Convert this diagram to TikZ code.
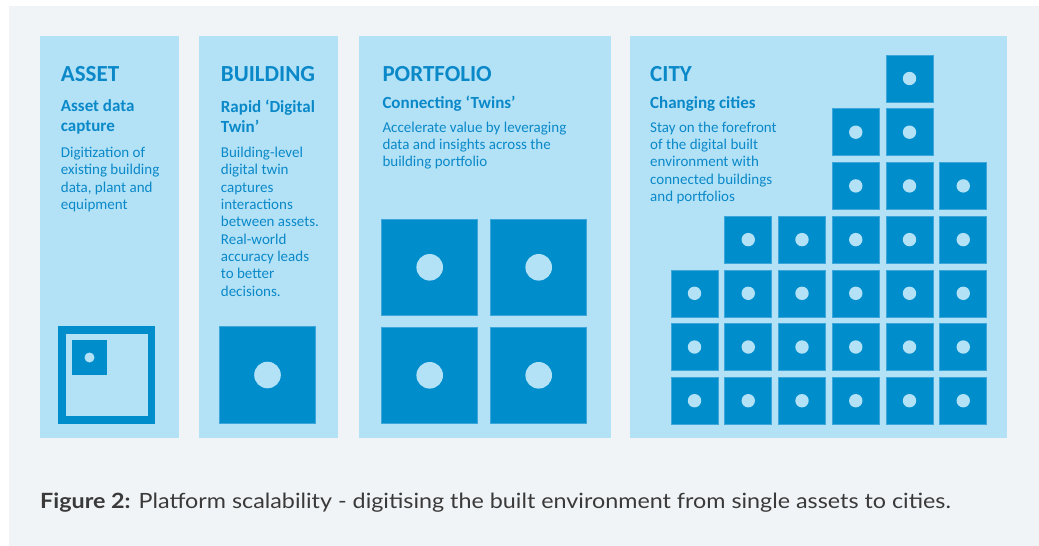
\documentclass[tikz,border=0pt]{standalone}
\usepackage{fontspec}
\setmainfont{Carlito}
\newfontfamily\capfont{Lato}
\definecolor{bgc}{HTML}{F1F4F6}
\definecolor{panelc}{HTML}{B3E2F7}
\definecolor{darkc}{HTML}{008DCC}
\definecolor{edgec}{HTML}{3DA7DC}
\definecolor{txtc}{HTML}{0A88C8}
\definecolor{capc}{HTML}{3A3A3A}
\tikzset{
  panelbox/.style={fill=panelc},
  tile/.style={fill=darkc, draw=edgec, line width=0.6pt},
  dot/.style={fill=panelc},
  titletxt/.style={anchor=north west, inner sep=0pt, text=txtc, font=\fontsize{23}{26}\selectfont\bfseries},
  subtxt/.style={anchor=north west, inner sep=0pt, text=txtc, align=left, font=\fontsize{17}{20}\selectfont\bfseries},
  bodytxt/.style={anchor=north west, inner sep=0pt, text=txtc, align=left, font=\fontsize{15}{17.3}\selectfont},
}
\begin{document}
\begin{tikzpicture}[x=1pt,y=-1pt]
\useasboundingbox (0,0) rectangle (1039,546);
\fill[white] (0,0) rectangle (1039,546);
\fill[bgc] (9,6) rectangle (1039,546);
% panels
\fill[panelbox] (40,36) rectangle (179,438);
\fill[panelbox] (199,36) rectangle (338,438);
\fill[panelbox] (359,36) rectangle (611,438);
\fill[panelbox] (630,36) rectangle (1007,438);
% asset icon
\fill[darkc] (58.3,326) rectangle (155.3,423.7);
\fill[panelc] (65.8,333.5) rectangle (147.8,416.2);
\fill[darkc] (72,340) rectangle (107,375);
\fill[dot] (89.5,357.5) circle (5);
% building icon
\draw[tile] (219.3,326.7) rectangle (315.7,423.3);
\fill[dot] (267.5,375) circle (13.3);
% portfolio icons
\foreach \px/\py in {381.7/219.3, 490.7/219.3, 381.7/327.3, 490.7/327.3}{
  \draw[tile] (\px,\py) rectangle ++(96,96);
  \fill[dot] (\px+48,\py+48) circle (13.3);
}
% city grid
\foreach \c/\r in {4/0, 3/1, 4/1, 3/2, 4/2, 5/2,
  1/3, 2/3, 3/3, 4/3, 5/3,
  0/4, 1/4, 2/4, 3/4, 4/4, 5/4,
  0/5, 1/5, 2/5, 3/5, 4/5, 5/5,
  0/6, 1/6, 2/6, 3/6, 4/6, 5/6}{
  \draw[tile] (671+\c*53.75,55+\r*53.7) rectangle ++(47,47);
  \fill[dot] (671+\c*53.75+23.5,55+\r*53.7+23.5) circle (6.7);
}
% texts
\node[titletxt] (t1) at (60.7,66) {ASSET};
\node[subtxt] (s1) at (60.7,99.3) {Asset data\\capture};
\node[bodytxt] (b1) at (60.7,147) {Digitization of\\existing building\\data, plant and\\equipment};
\node[titletxt] (t2) at (220.7,66) {BUILDING};
\node[subtxt] (s2) at (220.7,99.3) {Rapid ‘Digital\\Twin’};
\node[bodytxt] (b2) at (220.7,147) {Building-level\\digital twin\\captures\\interactions\\between assets.\\Real-world\\accuracy leads\\to better\\decisions.};
\node[titletxt] (t3) at (382.3,66) {PORTFOLIO};
\node[subtxt] (s3) at (382.3,96) {Connecting ‘Twins’};
\node[bodytxt] (b3) at (382.3,121.7) {Accelerate value by leveraging\\data and insights across the\\building portfolio};
\node[titletxt] (t4) at (650,66) {CITY};
\node[subtxt] (s4) at (650,96) {Changing cities};
\node[bodytxt] (b4) at (650,121.7) {Stay on the forefront\\of the digital built\\environment with\\connected buildings\\and portfolios};
% caption
\node[anchor=base west, inner sep=0pt, text=capc, font=\capfont\fontsize{21}{24}\selectfont] (cap) at (40,508) {\scalebox{1.11}[1]{\textbf{Figure 2:} Platform scalability - digitising the built environment from single assets to cities.}};
\end{tikzpicture}
\end{document}
